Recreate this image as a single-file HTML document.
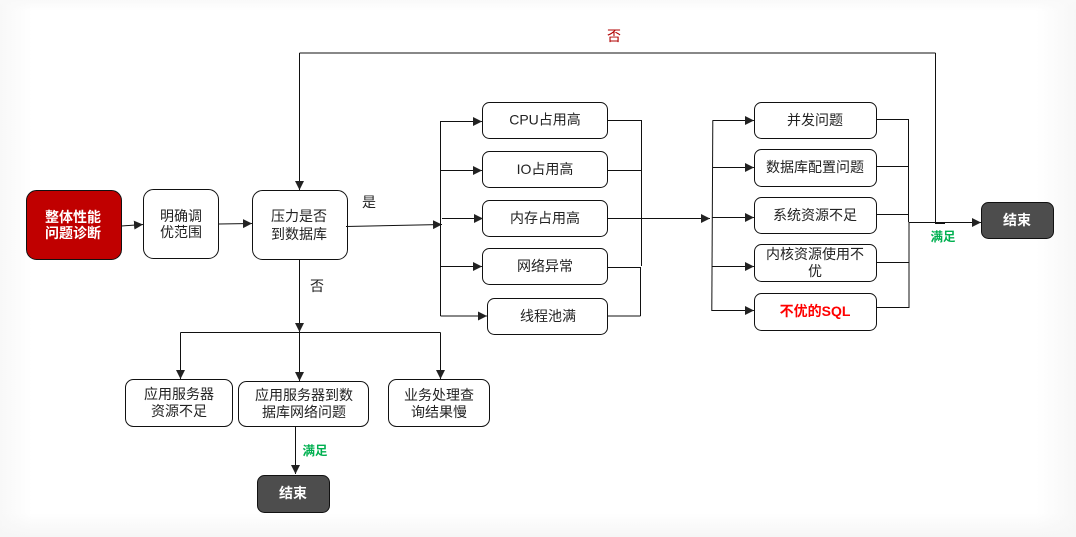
<!DOCTYPE html>
<html><head><meta charset="utf-8"><style>
html,body{margin:0;padding:0;background:#fff}
#w{position:relative;width:1076px;height:537px;overflow:hidden;background:#fff}
.e{position:absolute}
svg{position:absolute;left:0;top:0}
text{font-family:"Liberation Sans","Noto Sans CJK SC",sans-serif;font-size:14px;fill:#222;text-anchor:middle}
.b{font-weight:bold}
.w{fill:#fff}
.g{fill:#00b050;font-size:12.5px;font-weight:bold}
rect{fill:#fff;stroke:#111;stroke-width:1}
path.l{fill:none;stroke:#111;stroke-width:1}
</style></head><body><div id="w">
<div class="e" style="left:0;top:0;width:32px;height:537px;background:linear-gradient(90deg,#f8f8f8,#fff)"></div>
<div class="e" style="right:0;top:0;width:40px;height:537px;background:linear-gradient(270deg,#f7f7f7,#fff)"></div>
<div class="e" style="left:0;top:0;width:1076px;height:11px;background:linear-gradient(180deg,#f9f9f9,rgba(255,255,255,0))"></div>
<div class="e" style="left:0;bottom:0;width:1076px;height:24px;background:linear-gradient(0deg,#f6f6f6,rgba(255,255,255,0))"></div>
<svg width="1076" height="537" viewBox="0 0 1076 537">
<defs><marker id="a" markerWidth="10" markerHeight="10" refX="9" refY="4.500" orient="auto" markerUnits="userSpaceOnUse"><path d="M0,0 L9,4.500 L0,9 Z" fill="#222"/></marker></defs>

<rect x="26.5" y="190.5" width="95" height="69" rx="10" style="fill:#c00000"/>
<rect x="143.5" y="189.5" width="75" height="69" rx="10"/>
<rect x="252.5" y="190.5" width="95" height="69" rx="10"/>
<rect x="482.5" y="102.5" width="125" height="36" rx="7"/>
<rect x="482.5" y="151.5" width="125" height="36" rx="7"/>
<rect x="482.5" y="200.5" width="125" height="36" rx="7"/>
<rect x="482.5" y="248.5" width="125" height="36" rx="7"/>
<rect x="487.5" y="298.5" width="120" height="36" rx="7"/>
<rect x="754.5" y="102.5" width="122" height="36" rx="7"/>
<rect x="754.5" y="149.5" width="122" height="37" rx="7"/>
<rect x="754.5" y="197.5" width="122" height="36" rx="7"/>
<rect x="754.5" y="244.5" width="122" height="37" rx="7"/>
<rect x="754.5" y="293.5" width="122" height="37" rx="7"/>
<rect x="981.5" y="202.5" width="72" height="36" rx="7" style="fill:#4d4d4d"/>
<rect x="125.5" y="379.5" width="107" height="47" rx="8"/>
<rect x="238.5" y="381.5" width="130" height="45" rx="8"/>
<rect x="388.5" y="379.5" width="101" height="47" rx="8"/>
<rect x="257.5" y="475.5" width="72" height="37" rx="7" style="fill:#4d4d4d"/>

<path class="l" d="M121.5,226 L143,224.500" marker-end="url(#a)"/>
<path class="l" d="M218.500,224 L252,223.500" marker-end="url(#a)"/>
<path class="l" d="M346,226.500 L442,224.500" marker-end="url(#a)"/>
<path class="l" d="M299.500,259.500 V332" marker-end="url(#a)"/>
<path class="l" d="M180.500,332.500 H440.500"/>
<path class="l" d="M180.500,332.500 V379" marker-end="url(#a)"/>
<path class="l" d="M299.500,332.500 V381" marker-end="url(#a)"/>
<path class="l" d="M440.500,332.500 V379" marker-end="url(#a)"/>
<path class="l" d="M295.500,426.500 V474" marker-end="url(#a)"/>

<path class="l" d="M440.500,121 V316"/>
<path class="l" d="M440.500,121.500 H482" marker-end="url(#a)"/>
<path class="l" d="M440.500,170.500 H482" marker-end="url(#a)"/>
<path class="l" d="M442,218.500 H483" marker-end="url(#a)"/>
<path class="l" d="M440.500,266.500 H482" marker-end="url(#a)"/>
<path class="l" d="M440.500,316 H487" marker-end="url(#a)"/>

<path class="l" d="M608,120.500 H641.500 V266"/>
<path class="l" d="M608,170.500 H641"/>
<path class="l" d="M608,267.500 H640.500 V316"/>
<path class="l" d="M608,316 H640.500"/>
<path class="l" d="M608,218.500 H710" marker-end="url(#a)"/>

<path class="l" d="M712.800,120.500 L711.800,311"/>
<path class="l" d="M712.500,120.500 H754" marker-end="url(#a)"/>
<path class="l" d="M712.500,167.500 H754" marker-end="url(#a)"/>
<path class="l" d="M712.500,217.500 H754" marker-end="url(#a)"/>
<path class="l" d="M712.500,266.500 H754" marker-end="url(#a)"/>
<path class="l" d="M711.500,310.500 H754" marker-end="url(#a)"/>

<path class="l" d="M876,119.500 H908.500 V222"/>
<path class="l" d="M909,222 V307.500"/>
<path class="l" d="M876,166.500 H908.500"/>
<path class="l" d="M876,214.500 H908.500"/>
<path class="l" d="M876,262.500 H909"/>
<path class="l" d="M876,307.500 H909.500"/>
<path class="l" d="M909,222.500 H981" marker-end="url(#a)"/>

<path class="l" d="M935.500,222 V53"/>
<path class="l" d="M935.500,53 H299.500"/>
<path class="l" d="M299.500,53 V190" marker-end="url(#a)"/>
<path class="l" d="M935,223.500 H945"/>

<text x="73" y="222" class="b w">整体性能</text>
<text x="73" y="238" class="b w">问题诊断</text>
<text x="181" y="221">明确调</text>
<text x="181" y="237">优范围</text>
<text x="299" y="221">压力是否</text>
<text x="299" y="239">到数据库</text>
<text x="369" y="207">是</text>
<text x="317" y="291">否</text>
<text x="614" y="41" style="fill:#b00000">否</text>
<text x="545" y="124.500">CPU占用高</text>
<text x="545" y="174">IO占用高</text>
<text x="545" y="223">内存占用高</text>
<text x="545" y="271">网络异常</text>
<text x="548" y="321">线程池满</text>
<text x="815" y="125">并发问题</text>
<text x="815" y="172">数据库配置问题</text>
<text x="815" y="220">系统资源不足</text>
<text x="815" y="259">内核资源使用不</text>
<text x="815" y="276">优</text>
<text x="815" y="316" class="b" style="fill:#f00">不优的SQL</text>
<text x="1017" y="225" class="b w">结束</text>
<text x="943" y="241" class="g">满足</text>
<text x="179" y="399">应用服务器</text>
<text x="179" y="416">资源不足</text>
<text x="304" y="400">应用服务器到数</text>
<text x="304" y="417">据库网络问题</text>
<text x="439" y="400">业务处理查</text>
<text x="439" y="417">询结果慢</text>
<text x="293" y="498" class="b w">结束</text>
<text x="315" y="455" class="g">满足</text>
</svg>
</div></body></html>
